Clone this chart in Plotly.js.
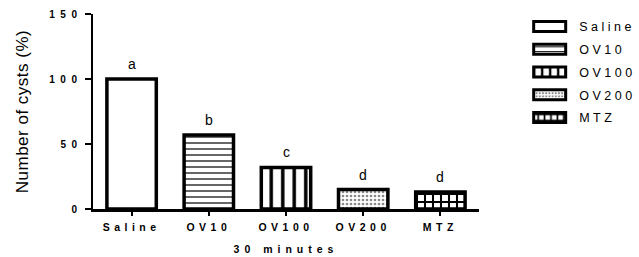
<!DOCTYPE html>
<html>
<head>
<meta charset="utf-8">
<script src="https://cdn.plot.ly/plotly-3.0.1.min.js"></script>
<style>
  html, body { margin: 0; padding: 0; background: #fff; }
  #chart { width: 639px; height: 257px; }
  .xtick text { letter-spacing: 4.5px; }
  .ytick text { letter-spacing: 5.5px; }
  text.xtitle { letter-spacing: 5px; }
  text.ytitle { letter-spacing: 0.5px; }
  text.legendtext { letter-spacing: 3.5px; }
</style>
</head>
<body>
<div id="chart"></div>
<script>
// ---- data ----
var categories = ['Saline', 'OV10', 'OV100', 'OV200', 'MTZ'];
var cystPercent = [100, 57, 32, 15, 13];
var groupLetters = ['a', 'b', 'c', 'd', 'd'];
var yTickValues = [0, 50, 100, 150];
var xTitle = '30 minutes';
var yTitle = 'Number of cysts (%)';

// ---- styles ----
var FONT = 'Liberation Sans, Arial, sans-serif';
var patterns = [
  { shape: '' },
  { shape: '-', size: 6, solidity: 0.2, fgcolor: '#000', bgcolor: '#fff' },
  { shape: '|', size: 11.5, solidity: 0.3, fgcolor: '#000', bgcolor: '#fff' },
  { shape: '.', size: 4, solidity: 0.35, fgcolor: '#888', bgcolor: '#fff' },
  { shape: '+', size: 8, solidity: 0.45, fgcolor: '#000', bgcolor: '#fff' }
];

var traces = categories.map(function (c, i) {
  return {
    type: 'bar',
    name: c,
    x: [c],
    y: [cystPercent[i]],
    legendgroup: c,
    marker: {
      color: '#fff',
      line: { color: '#000', width: 3.5 },
      pattern: patterns[i]
    },
    hoverinfo: 'x+y'
  };
});

var annotations = categories.map(function (c, i) {
  return {
    x: c, y: cystPercent[i], xref: 'x', yref: 'y',
    text: groupLetters[i], showarrow: false,
    yanchor: 'middle', yshift: 15,
    font: { family: FONT, size: 14, color: '#000' }
  };
});

var layout = {
  width: 639, height: 257,
  margin: { l: 93, r: 160, t: 14, b: 48, autoexpand: false },
  paper_bgcolor: '#fff', plot_bgcolor: '#fff',
  barmode: 'relative',
  bargap: 0.36,
  showlegend: true,
  legend: {
    x: 1.130, y: 1.011, xanchor: 'left', yanchor: 'top',
    font: { family: FONT, size: 12.5, color: '#000' },
    tracegroupgap: 3.5,
    itemwidth: 40,
    bgcolor: 'rgba(0,0,0,0)'
  },
  xaxis: {
    type: 'category',
    range: [-0.5, 4.5],
    showline: true, linecolor: '#000', linewidth: 2.5,
    ticks: 'outside', ticklen: 4, tickwidth: 2, tickcolor: '#000',
    ticklabelstandoff: 3,
    showgrid: false, zeroline: false,
    tickfont: { family: FONT, size: 10.5, color: '#000', weight: 'bold' },
    title: { text: xTitle, standoff: 14, font: { family: FONT, size: 10.5, color: '#000', weight: 'bold' } }
  },
  yaxis: {
    range: [0, 150],
    tickvals: yTickValues,
    showline: true, linecolor: '#000', linewidth: 2.5,
    ticks: 'outside', ticklen: 6, tickwidth: 2, tickcolor: '#000',
    showgrid: false, zeroline: false,
    tickfont: { family: FONT, size: 10, color: '#000', weight: 'bold' },
    title: { text: yTitle, standoff: 17, font: { family: FONT, size: 17, color: '#000' } }
  },
  annotations: annotations
};

Plotly.newPlot('chart', traces, layout, { displayModeBar: false, staticPlot: true }).then(function (gd) {
  // widen the legend swatches to match the reference's rectangular keys
  var pts = gd.querySelectorAll('.legendpoints path');
  pts.forEach(function (p) {
    p.setAttribute('d', 'M11.5,5H-20.5V-5H11.5Z');
    p.style.strokeWidth = '3px';
  });
});
</script>
</body>
</html>
